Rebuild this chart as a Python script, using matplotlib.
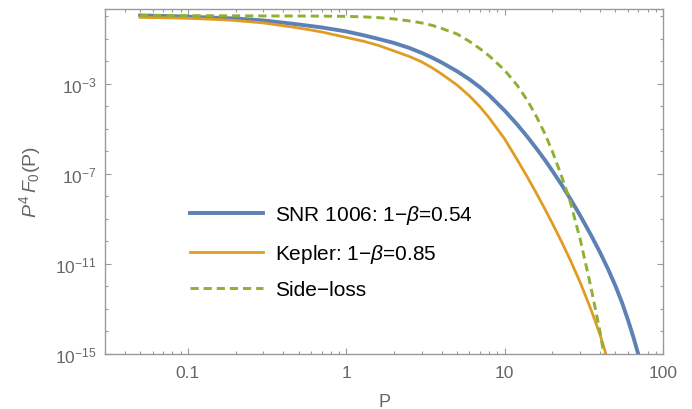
import matplotlib
matplotlib.use('Agg')
import matplotlib.pyplot as plt
from matplotlib.ticker import FixedLocator, NullFormatter

plt.rcParams['font.family'] = ['Liberation Sans', 'DejaVu Sans']
plt.rcParams['mathtext.fontset'] = 'custom'
plt.rcParams['mathtext.rm'] = 'Liberation Sans'
plt.rcParams['mathtext.it'] = 'Liberation Sans:italic'

# values: P and log10(P^4 F0)
p_snr = [0.05, 0.07, 0.1, 0.15, 0.2, 0.3, 0.5, 0.7, 1, 1.3, 1.6, 2, 2.5, 3, 3.5, 4, 5, 6, 7, 8,
         10, 12, 14, 16, 18, 20, 23, 26, 30, 35, 40, 45, 50, 55, 60, 65, 70]
lg_snr = [0.044, 0.022, -0.013, -0.058, -0.093, -0.178, -0.356, -0.489, -0.667, -0.844, -1.0,
          -1.178, -1.4, -1.622, -1.836, -2.045, -2.433, -2.796, -3.151, -3.505,
          -4.184, -4.80, -5.37, -5.90, -6.39, -6.855, -7.50, -8.107, -8.85, -9.70,
          -10.48, -11.23, -11.96, -12.70, -13.47, -14.25, -15.04]

p_kep = [0.05, 0.07, 0.1, 0.15, 0.2, 0.3, 0.5, 0.7, 1, 1.3, 1.6, 2, 2.5, 3, 3.5, 4, 5, 6, 7, 8,
         10, 12, 14, 16, 18, 20, 23, 26, 30, 35, 40, 43.6]
lg_kep = [-0.044, -0.058, -0.084, -0.133, -0.182, -0.289, -0.511, -0.689, -0.933, -1.111, -1.289,
          -1.533, -1.778, -2.022, -2.29, -2.556, -3.044, -3.533, -4.022, -4.511,
          -5.444, -6.36, -7.17, -7.9, -8.57, -9.19, -10.04, -10.83, -11.82, -13.0,
          -14.13, -15.0]

p_side = [0.05, 0.07, 0.1, 0.15, 0.2, 0.3, 0.5, 0.7, 1, 1.3, 1.6, 2, 2.5, 3, 3.5, 4, 5, 6, 7, 8,
          10, 12, 14, 16, 18, 20, 23, 26, 30, 35, 40, 42.3]
lg_side = [0.044, 0.040, 0.036, 0.031, 0.027, 0.022, 0.018, 0.013, 0.004, -0.022, -0.053,
           -0.111, -0.2, -0.289, -0.4, -0.533, -0.778, -1.11, -1.438, -1.757,
           -2.388, -3.06, -3.76, -4.49, -5.23, -5.99, -7.14, -8.25, -9.9, -12.0,
           -14.0, -15.0]

labels = ['SNR 1006: 1\u2212$\\beta$=0.54', 'Kepler: 1\u2212$\\beta$=0.85', 'Side\u2212loss']

x_ticks = [0.1, 1, 10, 100]
x_tick_labels = ['0.1', '1', '10', '100']
y_ticks = [1e-15, 1e-11, 1e-7, 1e-3]
y_tick_labels = ['$10^{-15}$', '$10^{-11}$', '$10^{-7}$', '$10^{-3}$']

frame_col = '#9a9a9a'
text_col = '#666666'

fig = plt.figure(figsize=(6.92, 4.10), dpi=100)
ax = fig.add_axes([105 / 692, 1 - 355 / 410, 558 / 692, 345 / 410])

ax.plot(p_snr, [10 ** v for v in lg_snr], color='#5e81b5', lw=2.8, label=labels[0])
ax.plot(p_kep, [10 ** v for v in lg_kep], color='#e19c24', lw=2.0, label=labels[1])
ax.plot(p_side, [10 ** v for v in lg_side], color='#8fb032', lw=2.1, dashes=(2.8, 1.7),
        label=labels[2])

ax.set_xscale('log')
ax.set_yscale('log')
ax.set_xlim(0.03, 100)
ax.set_ylim(1e-15, 10 ** 0.33)

ax.xaxis.set_major_locator(FixedLocator(x_ticks))
ax.set_xticklabels(x_tick_labels)
minor_x = [m * 10.0 ** e for e in range(-2, 2) for m in range(2, 10)]
ax.xaxis.set_minor_locator(FixedLocator([v for v in minor_x if 0.03 <= v <= 100]))
ax.xaxis.set_minor_formatter(NullFormatter())

ax.yaxis.set_major_locator(FixedLocator(y_ticks))
ax.set_yticklabels(y_tick_labels)
ax.yaxis.set_minor_locator(FixedLocator([10.0 ** e for e in range(-15, 1)]))
ax.yaxis.set_minor_formatter(NullFormatter())

for s in ax.spines.values():
    s.set_color(frame_col)
    s.set_linewidth(1.0)
ax.tick_params(which='both', direction='in', top=True, right=True, color=frame_col,
               labelcolor=text_col, labelsize=12.5, width=0.8)
ax.tick_params(which='major', length=4.5)
ax.tick_params(axis='x', which='major', pad=8)
ax.tick_params(axis='y', which='major', pad=6)
ax.tick_params(which='minor', length=2.5)

ax.set_xlabel('P', color=text_col, fontsize=13, labelpad=9)
ax.set_ylabel('$P^4\\,F_0$(P)', color=text_col, fontsize=14, labelpad=9)

ax.legend(loc='upper left', bbox_to_anchor=(0.152, 0.437), frameon=False, fontsize=15,
          handlelength=3.5, handletextpad=0.6, labelspacing=0.75, borderpad=0,
          borderaxespad=0)

fig.savefig('out.png', dpi=100)
